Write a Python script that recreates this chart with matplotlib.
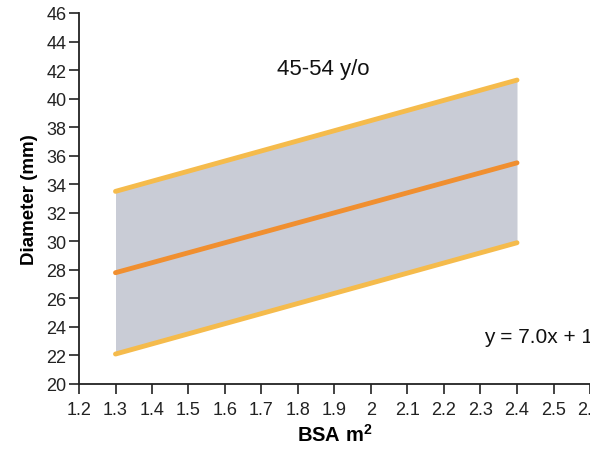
import matplotlib
matplotlib.use("Agg")
import matplotlib.pyplot as plt
import numpy as np

plt.rcParams['font.family'] = ['Liberation Sans', 'DejaVu Sans']
plt.rcParams['mathtext.fontset'] = 'custom'
plt.rcParams['mathtext.rm'] = 'Liberation Sans'
plt.rcParams['mathtext.bf'] = 'Liberation Sans:bold'

bsa = [1.3, 2.4]
upper = [33.5, 41.3]
mean = [27.8, 35.5]
lower = [22.1, 29.9]
x_ticks = [1.2, 1.3, 1.4, 1.5, 1.6, 1.7, 1.8, 1.9, 2.0, 2.1, 2.2, 2.3, 2.4, 2.5, 2.6]
x_labels = ['1.2', '1.3', '1.4', '1.5', '1.6', '1.7', '1.8', '1.9', '2', '2.1', '2.2', '2.3', '2.4', '2.5', '2.6']
y_ticks = list(range(20, 47, 2))
title = "45-54 y/o"
equation = "y = 7.0x + 18.6"

fig = plt.figure(figsize=(5.9, 4.56), dpi=100)
ax = fig.add_axes([79/590, 1-385/456, 1-79/590, (385-14)/456])

ax.fill_between(bsa, lower, upper, color='#c9ccd6', lw=0, zorder=1)
ax.plot(bsa, upper, color='#f5bb4c', lw=3.5, solid_capstyle='round', zorder=3)
ax.plot(bsa, lower, color='#f5bb4c', lw=3.5, solid_capstyle='round', zorder=3)
ax.plot(bsa, mean, color='#f08f30', lw=3.5, solid_capstyle='round', zorder=3)

ax.set_xlim(1.2, 2.6)
ax.set_ylim(20, 46)
ax.set_xticks(x_ticks)
ax.set_xticklabels(x_labels)
ax.set_yticks(y_ticks)
ax.tick_params(axis='both', direction='out', length=7, width=1.2, labelsize=13, colors='#222222')
ax.tick_params(axis='y', pad=2)
ax.tick_params(axis='x', pad=5)
for s in ['top', 'right']:
    ax.spines[s].set_visible(False)
for s in ['left', 'bottom']:
    ax.spines[s].set_linewidth(1.3)
    ax.spines[s].set_color('#222222')

ax.set_ylabel('Diameter (mm)', fontsize=13.5, fontweight='bold', labelpad=6)
ax.set_xlabel(r'BSA m$^{\mathbf{2}}$', fontsize=14.5, fontweight='bold', labelpad=4)

ax.text(1.87, 42.1, title, fontsize=16, ha='center', va='center', color='#111111')
ax.text(2.31, 23.3, equation, fontsize=15, ha='left', va='center', color='#111111', clip_on=False)

fig.savefig('out.png', dpi=100)
